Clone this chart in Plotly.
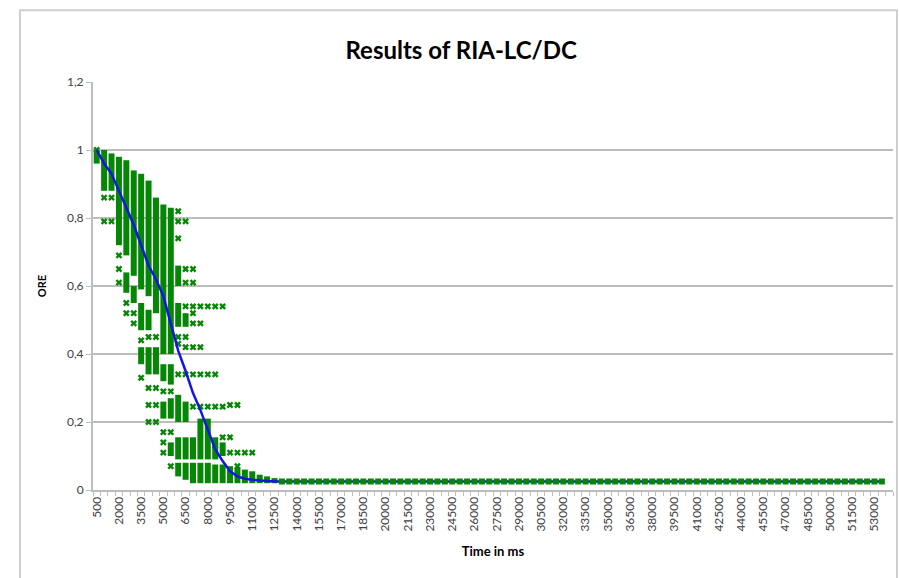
import plotly.graph_objects as go

# Time categories (ms) on the horizontal axis
time_ms = [500 * (k + 1) for k in range(107)]
label_ms = [500 + 1500 * k for k in range(36)]

# Average ORE per time category (blue curve)
avg_ore = [
    1.0, 0.96, 0.93, 0.88, 0.83, 0.78, 0.72, 0.66, 0.62, 0.57,
    0.49, 0.41, 0.35, 0.285, 0.235, 0.18, 0.12, 0.085, 0.055, 0.04,
    0.033, 0.03, 0.028, 0.026, 0.025, 0.025, 0.025, 0.025, 0.025, 0.025,
    0.025, 0.025, 0.025, 0.025, 0.025, 0.025, 0.025, 0.025, 0.025, 0.025,
    0.025, 0.025, 0.025, 0.025, 0.025, 0.025, 0.025, 0.025, 0.025, 0.025,
    0.025, 0.025, 0.025, 0.025, 0.025, 0.025, 0.025, 0.025, 0.025, 0.025,
    0.025, 0.025, 0.025, 0.025, 0.025, 0.025, 0.025, 0.025, 0.025, 0.025,
    0.025, 0.025, 0.025, 0.025, 0.025, 0.025, 0.025, 0.025, 0.025, 0.025,
    0.025, 0.025, 0.025, 0.025, 0.025, 0.025, 0.025, 0.025, 0.025, 0.025,
    0.025, 0.025, 0.025, 0.025, 0.025, 0.025, 0.025, 0.025, 0.025, 0.025,
    0.025, 0.025, 0.025, 0.025, 0.025, 0.025, 0.025,
]

# Individual runs: ranges of ORE values densely covered by runs, per early category
run_ranges = [
    [(0.96, 1.0)],
    [(0.88, 1.0)],
    [(0.88, 0.99)],
    [(0.72, 0.98)],
    [(0.69, 0.97), (0.58, 0.64)],
    [(0.63, 0.94), (0.55, 0.60)],
    [(0.59, 0.93), (0.47, 0.55), (0.37, 0.42)],
    [(0.57, 0.91), (0.47, 0.53), (0.34, 0.42)],
    [(0.52, 0.86), (0.34, 0.42)],
    [(0.40, 0.84), (0.32, 0.37), (0.21, 0.26)],
    [(0.40, 0.83), (0.31, 0.37), (0.21, 0.27), (0.10, 0.14)],
    [(0.60, 0.66), (0.48, 0.55), (0.20, 0.28), (0.09, 0.155), (0.04, 0.08)],
    [(0.48, 0.52), (0.20, 0.26), (0.09, 0.155), (0.03, 0.08)],
    [(0.09, 0.155), (0.02, 0.08)],
    [(0.09, 0.21), (0.02, 0.08)],
    [(0.09, 0.21), (0.02, 0.08)],
    [(0.09, 0.155), (0.02, 0.075)],
    [(0.10, 0.14), (0.02, 0.075)],
    [(0.02, 0.07)],
    [(0.02, 0.065)],
    [(0.02, 0.06)],
    [(0.02, 0.055)],
    [(0.02, 0.045)],
    [(0.02, 0.04)],
    [(0.02, 0.035)],
]

# Individual runs: isolated ORE values per early category
run_values = [
    [1.0],
    [0.86, 0.79],
    [0.86, 0.79],
    [0.69, 0.65, 0.61],
    [0.55, 0.52],
    [0.52, 0.49],
    [0.44, 0.33],
    [0.45, 0.30, 0.25, 0.20],
    [0.45, 0.30, 0.25, 0.20],
    [0.29, 0.17, 0.14, 0.11],
    [0.29, 0.17, 0.07],
    [0.82, 0.79, 0.74, 0.45, 0.43, 0.34],
    [0.79, 0.65, 0.61, 0.54, 0.45, 0.42, 0.34],
    [0.65, 0.61, 0.54, 0.52, 0.49, 0.42, 0.34, 0.245],
    [0.54, 0.49, 0.42, 0.34, 0.245],
    [0.54, 0.34, 0.245],
    [0.54, 0.34, 0.245, 0.13],
    [0.54, 0.245, 0.155],
    [0.25, 0.155, 0.11],
    [0.25, 0.11, 0.07],
    [0.11],
    [0.11],
    [],
    [],
    [],
]

# Converged runs after 12500 ms
tail_ore = [
    0.025, 0.025, 0.025, 0.025, 0.025, 0.025, 0.025, 0.025, 0.025, 0.025,
    0.025, 0.025, 0.025, 0.025, 0.025, 0.025, 0.025, 0.025, 0.025, 0.025,
    0.025, 0.025, 0.025, 0.025, 0.025, 0.025, 0.025, 0.025, 0.025, 0.025,
    0.025, 0.025, 0.025, 0.025, 0.025, 0.025, 0.025, 0.025, 0.025, 0.025,
    0.025, 0.025, 0.025, 0.025, 0.025, 0.025, 0.025, 0.025, 0.025, 0.025,
    0.025, 0.025, 0.025, 0.025, 0.025, 0.025, 0.025, 0.025, 0.025, 0.025,
    0.025, 0.025, 0.025, 0.025, 0.025, 0.025, 0.025, 0.025, 0.025, 0.025,
    0.025, 0.025, 0.025, 0.025, 0.025, 0.025, 0.025, 0.025, 0.025, 0.025,
    0.025, 0.025,
]

y_ticks = [0, 0.2, 0.4, 0.6, 0.8, 1.0, 1.2]
y_tick_text = ["0", "0,2", "0,4", "0,6", "0,8", "1", "1,2"]

GREEN = "#058705"
BLUE = "#1414e6"
GRID = "#bdbdbd"
TEXT = "#404040"

band_x, band_y = [], []
for k, ranges in enumerate(run_ranges):
    for lo, hi in ranges:
        band_x += [time_ms[k], time_ms[k], None]
        band_y += [lo, hi, None]

pts_x, pts_y = [], []
for k, vals in enumerate(run_values):
    for v in vals:
        pts_x.append(time_ms[k])
        pts_y.append(v)

tail_x = time_ms[len(run_values):len(run_values) + len(tail_ore)]

fig = go.Figure()
fig.add_trace(go.Scatter(x=band_x, y=band_y, mode="lines",
                         line=dict(color=GREEN, width=6), hoverinfo="skip"))
fig.add_trace(go.Scatter(x=pts_x, y=pts_y, mode="markers",
                         marker=dict(symbol="x", size=6, color=GREEN)))
fig.add_trace(go.Scatter(x=time_ms, y=avg_ore, mode="lines",
                         line=dict(color=BLUE, width=2.5)))
fig.add_trace(go.Scatter(x=tail_x, y=tail_ore, mode="markers",
                         marker=dict(symbol="square", size=6, color=GREEN)))

fig.update_layout(
    width=899, height=578,
    margin=dict(l=93, r=6, t=82, b=88),
    paper_bgcolor="white", plot_bgcolor="white",
    showlegend=False,
    font=dict(family="Lato, sans-serif", color=TEXT, size=12),
    title=dict(text="<b>Results of RIA-LC/DC</b>", x=0.513, xanchor="center",
               y=0.913, yanchor="middle",
               font=dict(family="Lato, sans-serif", size=24, color="#000000")),
    shapes=[dict(type="rect", xref="paper", yref="paper",
                 x0=-0.0913, x1=1.005, y0=-0.3, y1=1.176,
                 line=dict(color="#cfcfcf", width=2))],
)

fig.update_xaxes(
    range=[250, 54250], showgrid=False,
    tickmode="array", tickvals=label_ms, ticktext=[str(v) for v in label_ms],
    tickangle=-90, ticks="", tickfont=dict(size=12, color=TEXT),
    showline=True, linecolor=GRID, linewidth=2,
    minor=dict(ticks="outside", tick0=250, dtick=500, ticklen=4,
               tickcolor=GRID, tickwidth=1),
    title=dict(text="<b>Time in ms</b>", font=dict(size=13, color="#000000"),
               standoff=16),
    zeroline=False,
)
fig.update_yaxes(
    range=[0, 1.2], tickmode="array", tickvals=y_ticks, ticktext=y_tick_text,
    showgrid=True, gridcolor=GRID, gridwidth=2,
    ticks="outside", ticklen=5, tickcolor=GRID,
    showline=True, linecolor=GRID, linewidth=2,
    tickfont=dict(size=12, color=TEXT),
    title=dict(text="<b>ORE</b>", font=dict(size=11, color="#000000"), standoff=18),
    zeroline=False,
)

fig.write_html("out.html")
